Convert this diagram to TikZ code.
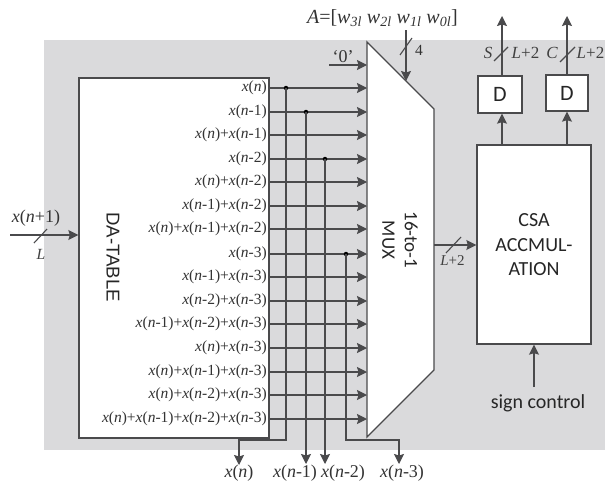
\documentclass[tikz,border=0pt]{standalone}
\usepackage{fontspec}
\setmainfont{Liberation Serif}
\newfontfamily\labelfont{Carlito}
\newfontfamily\tablefont{Liberation Sans}
\usetikzlibrary{arrows.meta}
\definecolor{Wire}{HTML}{4A4A4C}
\definecolor{Panel}{HTML}{DADADC}
\newcommand{\xterm}[1]{\textit{x}(\textit{n}#1)}
\begin{document}
\begin{tikzpicture}[x=1pt, y=-1pt, every node/.style={font=\fontsize{15.5}{17}\selectfont, inner sep=0pt}]
    \tikzstyle{box}=[draw=Wire, fill=white, line width=1.3pt]
    \tikzstyle{wire}=[draw=Wire, line width=1.3pt]
    \tikzstyle{sig}=[wire, -{Stealth[length=10pt, width=10pt, inset=1.5pt]}]
    \tikzstyle{tick}=[draw=Wire, line width=1.1pt]
    \tikzstyle{rowlabel}=[anchor=east, text=black!80]
    \tikzstyle{busport}=[font=\fontsize{18}{20}\selectfont, text=black!80]
    \tikzstyle{width}=[anchor=center, text=black!75, font=\fontsize{17}{19}\selectfont]
    \tikzstyle{sans}=[font=\labelfont\fontsize{20}{24.5}\selectfont, text=black!85, align=center]
    \tikzstyle{tap}=[circle, fill=black, minimum size=4.5pt]
    \useasboundingbox (0,0) rectangle (605,482);
    \fill[Panel] (44,40) rectangle (605,450);

    % memory table and its outputs
    \node[box, minimum width=190pt, minimum height=360pt] (table) at (174,258) {};
    \node[sans, font=\tablefont\fontsize{18.6}{22}\selectfont, rotate=-90] (tablename) at (113,257) {DA-TABLE};
    \node[rowlabel] (r0) at (267,88) {\xterm{}};
    \node[rowlabel] (r1) at (267,112) {\xterm{-1}};
    \node[rowlabel] (r2) at (267,135) {\xterm{}+\xterm{-1}};
    \node[rowlabel] (r3) at (267,159) {\xterm{-2}};
    \node[rowlabel] (r4) at (267,182) {\xterm{}+\xterm{-2}};
    \node[rowlabel] (r5) at (267,206) {\xterm{-1}+\xterm{-2}};
    \node[rowlabel] (r6) at (267,229) {\xterm{}+\xterm{-1}+\xterm{-2}};
    \node[rowlabel] (r7) at (267,254) {\xterm{-3}};
    \node[rowlabel] (r8) at (267,277) {\xterm{-1}+\xterm{-3}};
    \node[rowlabel] (r9) at (267,301) {\xterm{-2}+\xterm{-3}};
    \node[rowlabel] (r10) at (267,324) {\xterm{-1}+\xterm{-2}+\xterm{-3}};
    \node[rowlabel] (r11) at (267,348) {\xterm{}+\xterm{-3}};
    \node[rowlabel] (r12) at (267,372) {\xterm{}+\xterm{-1}+\xterm{-3}};
    \node[rowlabel] (r13) at (267,395) {\xterm{}+\xterm{-2}+\xterm{-3}};
    \node[rowlabel] (r14) at (267,419) {\xterm{}+\xterm{-1}+\xterm{-2}+\xterm{-3}};

    % multiplexer
    \coordinate (muxtl) at (367,42);
    \coordinate (muxtr) at (434,109);
    \coordinate (muxbr) at (434,370);
    \coordinate (muxbl) at (367,437);
    \draw[box] (muxtl) -- (muxtr) -- (muxbr) -- (muxbl) -- cycle;
    \node[sans, font=\labelfont\fontsize{19}{22.5}\selectfont, rotate=-90] (muxname) at (400,240) {16-to-1\\MUX};
    \coordinate (m0) at (367,88);
    \coordinate (m1) at (367,112);
    \coordinate (m2) at (367,135);
    \coordinate (m3) at (367,159);
    \coordinate (m4) at (367,182);
    \coordinate (m5) at (367,206);
    \coordinate (m6) at (367,229);
    \coordinate (m7) at (367,254);
    \coordinate (m8) at (367,277);
    \coordinate (m9) at (367,301);
    \coordinate (m10) at (367,324);
    \coordinate (m11) at (367,348);
    \coordinate (m12) at (367,372);
    \coordinate (m13) at (367,395);
    \coordinate (m14) at (367,419);
    \draw[sig] (table.east |- r0) -- (m0);
    \draw[sig] (table.east |- r1) -- (m1);
    \draw[sig] (table.east |- r2) -- (m2);
    \draw[sig] (table.east |- r3) -- (m3);
    \draw[sig] (table.east |- r4) -- (m4);
    \draw[sig] (table.east |- r5) -- (m5);
    \draw[sig] (table.east |- r6) -- (m6);
    \draw[sig] (table.east |- r7) -- (m7);
    \draw[sig] (table.east |- r8) -- (m8);
    \draw[sig] (table.east |- r9) -- (m9);
    \draw[sig] (table.east |- r10) -- (m10);
    \draw[sig] (table.east |- r11) -- (m11);
    \draw[sig] (table.east |- r12) -- (m12);
    \draw[sig] (table.east |- r13) -- (m13);
    \draw[sig] (table.east |- r14) -- (m14);

    % tapped delays
    \node[tap] (t0) at (286,88) {};
    \node[tap] (t1) at (306,112) {};
    \node[tap] (t2) at (325,159) {};
    \node[tap] (t3) at (346,254) {};
    \node[busport, anchor=north] (out0) at (239,465) {\xterm{}};
    \node[busport, anchor=north] (out1) at (295,465) {\xterm{-1}};
    \node[busport, anchor=north] (out2) at (343,465) {\xterm{-2}};
    \node[busport, anchor=north] (out3) at (402,465) {\xterm{-3}};
    \coordinate (end1) at (306,464);
    \coordinate (end2) at (325,464);
    \coordinate (end3) at (399,464);
    \draw[sig] (t0.center) -- (286,440) -| (out0.north);
    \draw[sig] (t1.center) -- (end1);
    \draw[sig] (t2.center) -- (end2);
    \draw[sig] (t3.center) -- (346,440) -| (end3);

    % select and zero inputs
    \node[busport, anchor=south] (zero) at (343,63) {`0'};
    \coordinate (zerofrom) at (329,65);
    \coordinate (zeroto) at (367,65);
    \draw[sig] (zerofrom) -- (zeroto);
    \node[busport, font=\fontsize{20}{22}\selectfont, anchor=east] (sel) at (458,18) {\textit{A}=[\textit{w}\textsubscript{\textit{3l}} \textit{w}\textsubscript{\textit{2l}} \textit{w}\textsubscript{\textit{1l}} \textit{w}\textsubscript{\textit{0l}}]};
    \coordinate (selfrom) at (406,30);
    \coordinate (selto) at (406,81);
    \draw[sig] (selfrom) -- (selto);
    \draw[tick] (412,38) -- (400,55);
    \node[rowlabel, anchor=west] (selwidth) at (415,50) {4};

    % input
    \node[busport] (inname) at (36,218) {\xterm{+1}};
    \node[width, font=\fontsize{15.5}{17}\selectfont\itshape] (inwidth) at (41,254) {L};
    \coordinate (infrom) at (10,235);
    \draw[sig] (infrom) -- (table.west |- infrom);
    \draw[tick] (47,229) -- (34,243);

    % accumulator and registers
    \node[box, minimum width=114pt, minimum height=199pt] (csa) at (534,244.5) {};
    \node[sans] (csaname) at (534,245) {CSA\\ACCMUL-\\ATION};
    \node[box, sans, font=\labelfont\fontsize{22}{24}\selectfont, minimum width=44pt, minimum height=37pt] (ds) at (500,94.5) {D};
    \node[box, sans, font=\labelfont\fontsize{22}{24}\selectfont, minimum width=42pt, minimum height=36pt] (dc) at (567,93) {D};
    \coordinate (sout) at (502,16);
    \coordinate (cout) at (567,16);
    \draw[sig] (csa.north -| sout) -- (ds.south -| sout);
    \draw[sig] (csa.north -| dc) -- (dc);
    \draw[sig] (ds.north -| sout) -- (sout);
    \draw[sig] (dc.north) -- (cout);
    \draw[tick] (508,47) -- (494,61);
    \draw[tick] (575,47) -- (560,62);
    \node[width, font=\fontsize{17}{19}\selectfont\itshape] (sname) at (488,52.5) {S};
    \node[width] (swidth) at (525.5,52.5) {\textit{L}+2};
    \node[width, font=\fontsize{17}{19}\selectfont\itshape] (cname) at (552,52.5) {C};
    \node[width] (cwidth) at (590.5,52.5) {\textit{L}+2};

    % multiplexer output
    \coordinate (muxout) at (434,245);
    \draw[sig] (muxout) -- (csa.west |- muxout);
    \draw[tick] (461,237) -- (446,253);
    \node[width, font=\fontsize{15}{17}\selectfont] (outwidth) at (452.5,261) {\textit{L}+2};

    % sign input
    \node[sans] (sign) at (538,403) {sign control};
    \coordinate (signfrom) at (534,387);
    \draw[sig] (signfrom) -- (csa.south -| signfrom);
\end{tikzpicture}
\end{document}
